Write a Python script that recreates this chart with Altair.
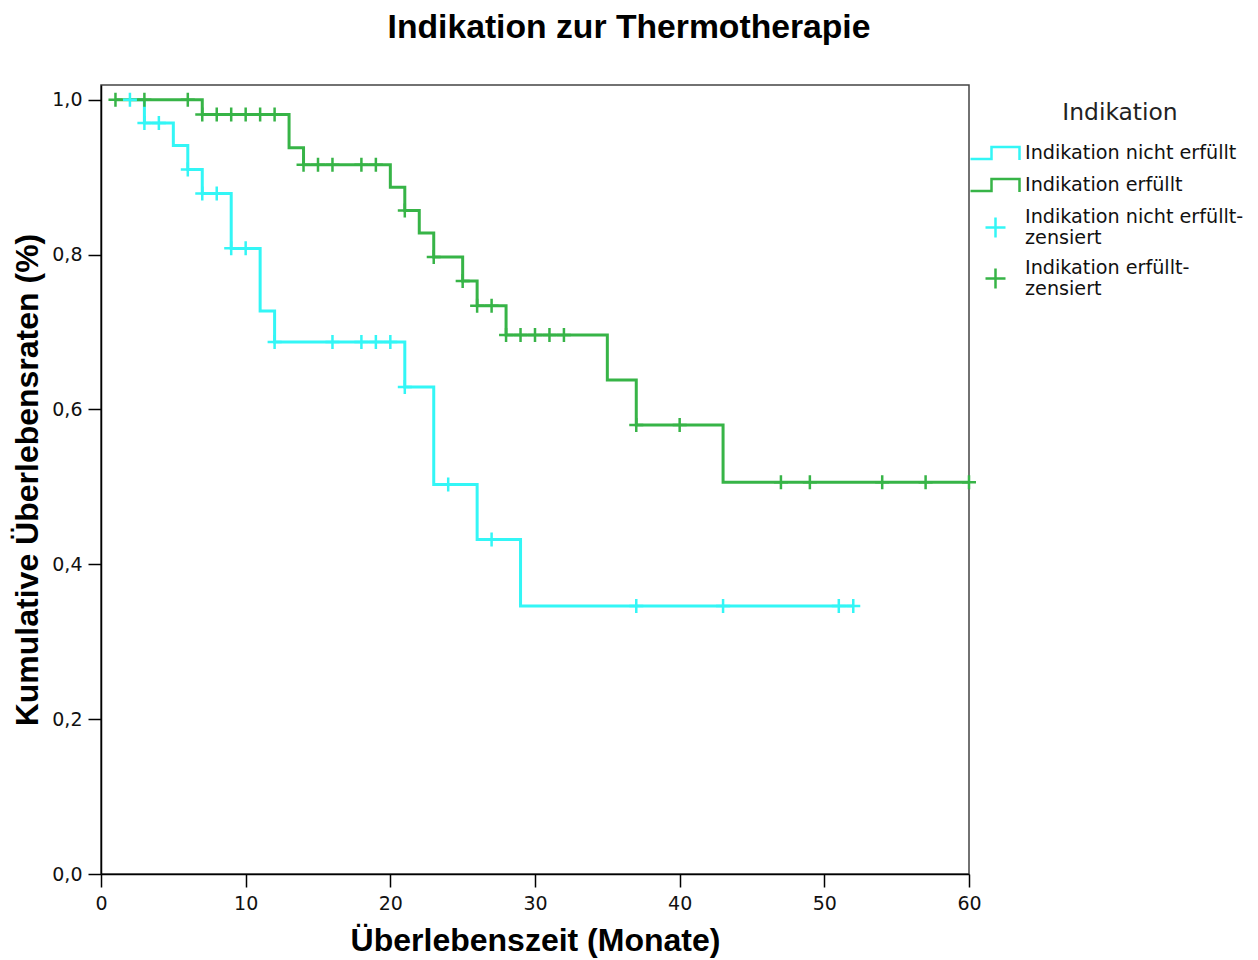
import altair as alt
import pandas as pd

# ---- categories / colours ----
groups = ["Indikation nicht erfüllt", "Indikation erfüllt"]
censor_groups = ["Indikation nicht erfüllt-zensiert", "Indikation erfüllt-zensiert"]
c_cyan = "#33F6F6"
c_green = "#37B447"

# ---- step curves (time in months, cumulative survival) ----
cyan_t = [2, 3, 5, 6, 7, 9, 11, 12, 21, 23, 26, 29, 52]
cyan_s = [1.0, 0.970, 0.941, 0.910, 0.879, 0.808, 0.727, 0.687, 0.629, 0.503, 0.432, 0.346, 0.346]

green_t = [1, 7, 13, 14, 20, 21, 22, 23, 25, 26, 28, 35, 37, 43, 60]
green_s = [1.0, 0.981, 0.938, 0.916, 0.887, 0.857, 0.828, 0.797, 0.766, 0.734, 0.696, 0.638, 0.580, 0.506, 0.506]

# ---- censored observations ----
cyan_ct = [2, 3, 4, 6, 7, 8, 9, 10, 12, 16, 18, 19, 20, 21, 24, 27, 37, 43, 51, 52]
cyan_cs = [1.0, 0.970, 0.970, 0.910, 0.879, 0.879, 0.808, 0.808, 0.687, 0.687, 0.687, 0.687, 0.687,
           0.629, 0.503, 0.432, 0.346, 0.346, 0.346, 0.346]

green_ct = [1, 3, 6, 7, 8, 9, 10, 11, 12, 14, 15, 16, 18, 19, 21, 23, 25, 26, 27, 28, 29, 30, 31, 32,
            37, 40, 47, 49, 54, 57, 60]
green_cs = [1.0, 1.0, 1.0, 0.981, 0.981, 0.981, 0.981, 0.981, 0.981, 0.916, 0.916, 0.916, 0.916, 0.916,
            0.857, 0.797, 0.766, 0.734, 0.734, 0.696, 0.696, 0.696, 0.696, 0.696,
            0.580, 0.580, 0.506, 0.506, 0.506, 0.506, 0.506]

x_ticks = [0, 10, 20, 30, 40, 50, 60]
y_ticks = [0.0, 0.2, 0.4, 0.6, 0.8, 1.0]

line_df = pd.concat([
    pd.DataFrame({"t": cyan_t, "s": cyan_s, "grp": groups[0]}),
    pd.DataFrame({"t": green_t, "s": green_s, "grp": groups[1]}),
], ignore_index=True)
cens_df = pd.concat([
    pd.DataFrame({"t": cyan_ct, "s": cyan_cs, "grp": censor_groups[0]}),
    pd.DataFrame({"t": green_ct, "s": green_cs, "grp": censor_groups[1]}),
], ignore_index=True)

all_domain = groups + censor_groups
# legend symbol for the curves: a small step
step_path = "M-2.5,0.6L-0.4,0.6L-0.4,-0.6L2.4,-0.6L2.4,0.7"
# censor cross (drawn lowered by CROSS_SHIFT units so that the legend cross sits
# between the two label lines; the plot marks are lifted back with yOffset)
CROSS_SHIFT = 1.06
plus_path = (f"M-1,{CROSS_SHIFT}L1,{CROSS_SHIFT}M0,{CROSS_SHIFT - 1}L0,{CROSS_SHIFT + 1}"
             "M25.6,0")
PLOT_SIZE = 196
PLOT_UNIT = (PLOT_SIZE ** 0.5) / 2

color_scale = alt.Scale(domain=all_domain, range=[c_cyan, c_green, c_cyan, c_green])
shape_scale = alt.Scale(domain=all_domain, range=[step_path, step_path, plus_path, plus_path])

FONT = "Liberation Sans"
FONT2 = "DejaVu Sans"

x_enc = alt.X(
    "t:Q",
    scale=alt.Scale(domain=[0, 60], nice=False, zero=True),
    axis=alt.Axis(values=x_ticks, title="Überlebenszeit (Monate)", format="d",
                  labelFlush=False, labelPadding=7, titlePadding=12),
)
y_enc = alt.Y(
    "s:Q",
    scale=alt.Scale(domain=[0, 1.019], nice=False),
    axis=alt.Axis(values=y_ticks, title="Kumulative Überlebensraten (%)",
                  labelExpr="replace(format(datum.value, '.1f'), '.', ',')",
                  labelFlush=False, labelPadding=6, titlePadding=7),
)

label_expr = (
    "datum.label == 'Indikation nicht erfüllt-zensiert' ? ['Indikation nicht erfüllt-', 'zensiert'] : "
    "datum.label == 'Indikation erfüllt-zensiert' ? ['Indikation erfüllt-', 'zensiert'] : datum.label"
)

def make_legend():
    return alt.Legend(
        title="Indikation",
        orient="none",
        legendX=883,
        legendY=17,
        symbolSize=400,
        symbolStrokeWidth=2.5,
        labelExpr=label_expr,
        labelFont=FONT2,
        labelFontSize=19.2,
        labelColor="#111",
        labelLimit=400,
        labelOffset=18,
        rowPadding=8,
        titleFont=FONT2,
        titleFontSize=23.4,
        titleFontWeight="normal",
        titleColor="#222",
        titleAnchor="middle",
        titlePadding=16,
    )

line_c = alt.Chart(line_df).transform_filter(
    alt.datum.grp == groups[0]
).mark_line(interpolate="step-after", strokeWidth=3, color=c_cyan).encode(
    x=x_enc, y=y_enc,
)
line_g = alt.Chart(line_df).transform_filter(
    alt.datum.grp == groups[1]
).mark_line(interpolate="step-after", strokeWidth=3, color=c_green).encode(
    x=x_enc, y=y_enc,
)
pts = alt.Chart(cens_df).mark_point(
    filled=False, size=PLOT_SIZE, strokeWidth=2.5, opacity=1,
    yOffset=-CROSS_SHIFT * PLOT_UNIT,
).encode(
    x=x_enc, y=y_enc,
    color=alt.Color("grp:N", scale=color_scale, legend=make_legend()),
    shape=alt.Shape("grp:N", scale=shape_scale, legend=make_legend()),
)

chart = alt.layer(line_c, line_g, pts).properties(
    width=868,
    height=789,
    padding={"left": 93, "top": 77, "right": 281, "bottom": 86},
    autosize=alt.AutoSizeParams(type="none"),
    title=alt.Title("Indikation zur Thermotherapie", font=FONT, fontSize=33.7,
                    fontWeight="bold", color="#000", anchor="middle", dx=94, offset=40),
).configure_view(
    stroke="#444", strokeWidth=1.5
).configure_axis(
    labelFont=FONT2, labelFontSize=19, labelColor="#111",
    titleFont=FONT, titleFontSize=32, titleFontWeight="bold", titleColor="#000",
    domainColor="#000", domainWidth=1.5, tickColor="#000", tickWidth=1.5,
    tickSize=13, grid=False,
)

chart.save("out.html", embed_options={"renderer": "svg", "actions": False})
